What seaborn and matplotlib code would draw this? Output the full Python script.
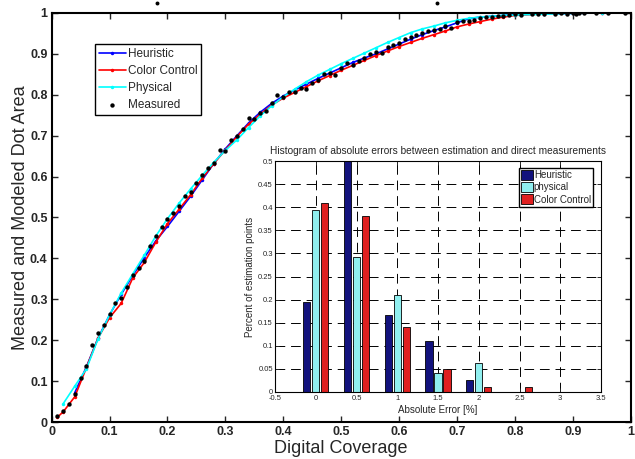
import pandas as pd
import seaborn as sns
import matplotlib.pyplot as plt
from matplotlib.ticker import MultipleLocator, FuncFormatter

# ---- main plot: measured dot area vs digital coverage ----
measured_x = [0.01, 0.02, 0.03, 0.04, 0.05, 0.06, 0.07, 0.08, 0.09, 0.10,
              0.11, 0.12, 0.13, 0.14, 0.15, 0.16, 0.17, 0.18, 0.19, 0.20,
              0.21, 0.22, 0.23, 0.24, 0.25, 0.26, 0.27, 0.28, 0.29, 0.30,
              0.31, 0.32, 0.33, 0.34, 0.35, 0.36, 0.37, 0.38, 0.39, 0.40,
              0.41, 0.42, 0.43, 0.44, 0.45, 0.46, 0.47, 0.48, 0.49, 0.50,
              0.51, 0.52, 0.53, 0.54, 0.55, 0.56, 0.57, 0.58, 0.59, 0.60,
              0.61, 0.62, 0.63, 0.64, 0.65, 0.66, 0.67, 0.68, 0.69, 0.70,
              0.71, 0.72, 0.73, 0.74, 0.75, 0.76, 0.77, 0.78, 0.79, 0.80,
              0.81, 0.83, 0.84, 0.85, 0.87, 0.88, 0.89, 0.90, 0.905, 0.91,
              0.92, 0.94, 0.96, 0.99]
measured_y = [0.015, 0.028, 0.045, 0.068, 0.107, 0.138, 0.189, 0.218, 0.236, 0.263,
              0.290, 0.303, 0.331, 0.360, 0.377, 0.394, 0.430, 0.455, 0.476, 0.497,
              0.512, 0.527, 0.553, 0.563, 0.584, 0.604, 0.622, 0.633, 0.665, 0.663,
              0.689, 0.700, 0.716, 0.744, 0.742, 0.755, 0.761, 0.779, 0.799, 0.795,
              0.808, 0.808, 0.816, 0.813, 0.828, 0.836, 0.850, 0.853, 0.848, 0.866,
              0.878, 0.873, 0.883, 0.889, 0.900, 0.904, 0.901, 0.917, 0.922, 0.926,
              0.936, 0.941, 0.945, 0.950, 0.956, 0.958, 0.962, 0.969, 0.964, 0.977,
              0.980, 0.980, 0.983, 0.987, 0.989, 0.990, 0.992, 0.993, 0.995, 0.998,
              0.996, 0.997, 0.998, 0.998, 0.998, 0.999, 0.998, 0.999, 0.998, 0.999,
              0.999, 0.999, 1.000, 1.000]

# two stray measured points drawn just above the frame
stray_x = [0.182, 0.665]
stray_y = [1.024, 1.024]

heuristic_x = [0.04, 0.06, 0.08, 0.10, 0.12, 0.14, 0.16, 0.18, 0.20, 0.22,
               0.24, 0.26, 0.28, 0.30, 0.32, 0.34, 0.36, 0.38, 0.40, 0.42,
               0.44, 0.46, 0.48, 0.50, 0.52, 0.54, 0.56, 0.58, 0.60, 0.62,
               0.64, 0.66, 0.68, 0.70, 0.72, 0.74, 0.76, 0.78, 0.80, 0.85,
               0.90, 0.95]
heuristic_y = [0.072, 0.135, 0.205, 0.262, 0.312, 0.358, 0.402, 0.443, 0.478, 0.515,
               0.552, 0.592, 0.632, 0.668, 0.700, 0.731, 0.757, 0.779, 0.797, 0.812,
               0.826, 0.840, 0.853, 0.866, 0.879, 0.890, 0.900, 0.912, 0.924, 0.936,
               0.947, 0.957, 0.966, 0.976, 0.986, 0.990, 0.992, 0.994, 0.996, 0.998,
               0.999, 1.000]

color_ctrl_x = [0.01, 0.02, 0.04, 0.06, 0.08, 0.10, 0.12, 0.14, 0.16, 0.18,
                0.20, 0.22, 0.24, 0.26, 0.28, 0.30, 0.32, 0.34, 0.36, 0.38,
                0.40, 0.42, 0.44, 0.46, 0.48, 0.50, 0.52, 0.54, 0.56, 0.58,
                0.60, 0.62, 0.64, 0.66, 0.68, 0.70, 0.72, 0.74, 0.76, 0.78,
                0.80, 0.85, 0.90, 0.95, 1.00]
color_ctrl_y = [0.012, 0.025, 0.062, 0.133, 0.205, 0.255, 0.290, 0.352, 0.390, 0.440,
                0.485, 0.520, 0.556, 0.596, 0.632, 0.665, 0.698, 0.728, 0.752, 0.775,
                0.792, 0.806, 0.820, 0.834, 0.847, 0.860, 0.872, 0.884, 0.896, 0.907,
                0.918, 0.928, 0.938, 0.947, 0.956, 0.966, 0.973, 0.979, 0.985, 0.990,
                0.994, 0.998, 1.000, 1.000, 1.000]

physical_x = [0.02, 0.04, 0.06, 0.08, 0.10, 0.12, 0.14, 0.16, 0.18, 0.20,
              0.22, 0.24, 0.26, 0.28, 0.30, 0.32, 0.34, 0.36, 0.38, 0.40,
              0.42, 0.44, 0.46, 0.48, 0.50, 0.52, 0.54, 0.56, 0.58, 0.60,
              0.62, 0.64, 0.66, 0.68, 0.70, 0.72, 0.74, 0.76, 0.78, 0.80,
              0.85, 0.90, 0.95]
physical_y = [0.045, 0.088, 0.130, 0.203, 0.262, 0.315, 0.362, 0.408, 0.455, 0.497,
              0.535, 0.570, 0.603, 0.635, 0.664, 0.690, 0.720, 0.748, 0.773, 0.795,
              0.814, 0.832, 0.848, 0.862, 0.876, 0.889, 0.902, 0.915, 0.928, 0.940,
              0.952, 0.961, 0.968, 0.976, 0.982, 0.987, 0.990, 0.992, 0.994, 0.995,
              0.997, 0.999, 1.000]

# ---- inset histogram of absolute errors ----
err_bins = [0.0, 0.5, 1.0, 1.5, 2.0, 2.5]
err_heuristic = [0.195, 0.52, 0.167, 0.110, 0.027, 0.0]
err_physical = [0.395, 0.292, 0.209, 0.042, 0.063, 0.0]
err_color_ctrl = [0.410, 0.380, 0.140, 0.050, 0.010, 0.010]

sns.set_style('ticks')
plt.rcParams['font.family'] = ['Liberation Sans', 'DejaVu Sans']
plt.rcParams['axes.unicode_minus'] = False

fmt = FuncFormatter(lambda v, pos: f"{v:g}")

fig = plt.figure(figsize=(6.35, 4.59), dpi=100)
ax = fig.add_axes([0.0814, 0.0806, 0.9118, 0.8911])

sns.lineplot(x=heuristic_x, y=heuristic_y, color='#0000ff', marker='.', markersize=5,
             markeredgewidth=0, linewidth=1.2, label='Heuristic', ax=ax)
sns.lineplot(x=color_ctrl_x, y=color_ctrl_y, color='#ff0000', marker='.', markersize=5,
             markeredgewidth=0, linewidth=1.2, label='Color Control', ax=ax)
sns.lineplot(x=physical_x, y=physical_y, color='#00ffff', marker='.', markersize=5,
             markeredgewidth=0, linewidth=1.2, label='Physical', ax=ax)
sns.scatterplot(x=measured_x, y=measured_y, color='black', s=10, linewidth=0,
                label='Measured', ax=ax, zorder=5)
ax.scatter(stray_x, stray_y, color='black', s=8, linewidth=0, clip_on=False, zorder=5)

ax.set_xlim(0, 1)
ax.set_ylim(0, 1)
ax.xaxis.set_major_locator(MultipleLocator(0.1))
ax.yaxis.set_major_locator(MultipleLocator(0.1))
ax.xaxis.set_major_formatter(fmt)
ax.yaxis.set_major_formatter(fmt)
ax.tick_params(direction='in', length=4, width=1, top=True, right=True,
               labelsize=9, pad=3)
for lab in ax.get_xticklabels() + ax.get_yticklabels():
    lab.set_fontweight('bold')
for sp in ax.spines.values():
    sp.set_visible(True)
    sp.set_linewidth(1.5)
    sp.set_color('black')
ax.set_xlabel('Digital Coverage', fontsize=13, labelpad=1)
ax.set_ylabel('Measured and Modeled Dot Area', fontsize=13, labelpad=1)

leg = ax.legend(loc='upper left', bbox_to_anchor=(0.074, 0.925), fontsize=8.5,
                frameon=True, fancybox=False, framealpha=1, edgecolor='black',
                handlelength=2.3, handletextpad=0.15, borderpad=0.35,
                labelspacing=0.42, borderaxespad=0)
leg.get_frame().set_linewidth(1.0)

# inset
ax2 = fig.add_axes([0.4331, 0.146, 0.5134, 0.5032])
hist_df = pd.DataFrame({
    'error': err_bins * 3,
    'share': err_heuristic + err_physical + err_color_ctrl,
    'model': ['Heuristic'] * 6 + ['physical'] * 6 + ['Color Control'] * 6,
})
sns.barplot(data=hist_df, x='error', y='share', hue='model', native_scale=True,
            hue_order=['Heuristic', 'physical', 'Color Control'],
            palette={'Heuristic': '#00008f', 'physical': '#80ffff', 'Color Control': '#ff0000'},
            width=0.66, gap=0.18, edgecolor='black', linewidth=0.6,
            errorbar=None, ax=ax2)

ax2.set_xlim(-0.5, 3.5)
ax2.set_ylim(0, 0.5)
ax2.xaxis.set_major_locator(MultipleLocator(0.5))
ax2.yaxis.set_major_locator(MultipleLocator(0.05))
ax2.xaxis.set_major_formatter(fmt)
ax2.yaxis.set_major_formatter(fmt)
ax2.set_axisbelow(True)
ax2.grid(True, color='black', linewidth=0.7, linestyle=(0, (10, 6)))
ax2.tick_params(direction='in', length=3, width=0.7, top=True, right=True,
                labelsize=5.5, pad=1.5)
ax2.tick_params(axis='x', pad=2.5)
for sp in ax2.spines.values():
    sp.set_visible(True)
    sp.set_linewidth(0.8)
    sp.set_color('black')
ax2.set_title('Histogram of absolute errors between estimation and direct measurements',
              fontsize=7.3, pad=5)
ax2.set_xlabel('Absolute Error [%]', fontsize=7, labelpad=1.5)
ax2.set_ylabel('Percent of estimation points', fontsize=7, labelpad=2)

h, l = ax2.get_legend_handles_labels()
leg2 = ax2.legend(h, l, loc='upper right', bbox_to_anchor=(0.975, 0.97), fontsize=7,
                  frameon=True, fancybox=False, framealpha=1, edgecolor='black',
                  handlelength=1.2, handleheight=1.2, handletextpad=0.1,
                  borderpad=0.2, labelspacing=0.2, borderaxespad=0)
leg2.get_frame().set_linewidth(1.0)

fig.savefig('out.png', dpi=100)
